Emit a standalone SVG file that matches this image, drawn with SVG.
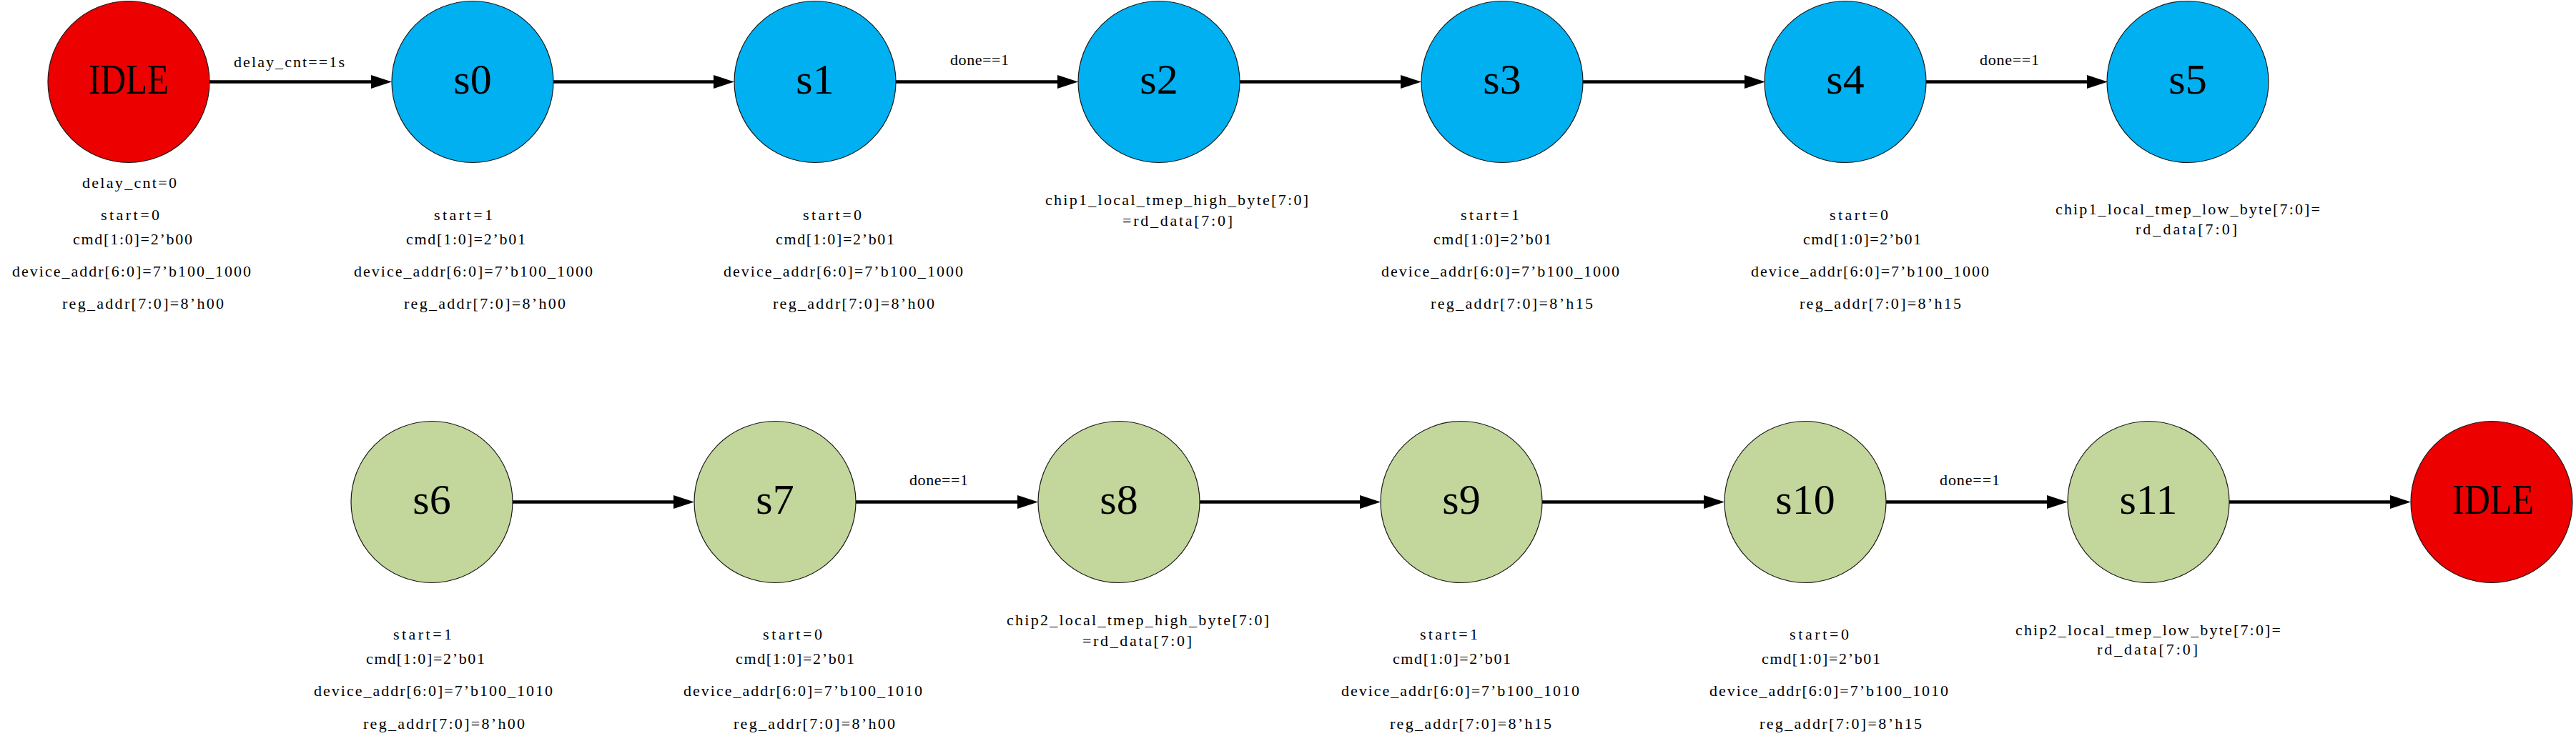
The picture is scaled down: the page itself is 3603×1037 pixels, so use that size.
<svg xmlns="http://www.w3.org/2000/svg" width="3603" height="1037" viewBox="0 0 3603 1037">
<style>
.st{stroke:#1a1a1a;stroke-width:1.2}
.red{fill:#EC0000}
.blue{fill:#00B0F0}
.green{fill:#C3D69B}
.nl{font-family:"Liberation Serif","Noto Sans CJK SC",serif;font-size:60px;fill:#000;text-anchor:middle}
.idle{text-anchor:start}
.t{font-family:"Liberation Serif","Noto Sans CJK SC",serif;font-size:22px;fill:#000}
.edge{stroke:#000;stroke-width:4.5;fill:none;marker-end:url(#ah)}
</style>
<defs>
<marker id="ah" markerUnits="userSpaceOnUse" markerWidth="30" markerHeight="20" refX="0" refY="9.5" orient="auto" overflow="visible">
<path d="M0,0 L29,9.5 L0,19 z" fill="#000"/>
</marker>
</defs>
<rect width="3603" height="1037" fill="#fff"/>
<g id="connectors">
<line class="edge" x1="293" y1="114.5" x2="519" y2="114.5"/>
<line class="edge" x1="773" y1="114.5" x2="998" y2="114.5"/>
<line class="edge" x1="1253" y1="114.5" x2="1479" y2="114.5"/>
<line class="edge" x1="1733" y1="114.5" x2="1959" y2="114.5"/>
<line class="edge" x1="2213" y1="114.5" x2="2440" y2="114.5"/>
<line class="edge" x1="2694" y1="114.5" x2="2919" y2="114.5"/>
<line class="edge" x1="717" y1="702.5" x2="942" y2="702.5"/>
<line class="edge" x1="1197" y1="702.5" x2="1423" y2="702.5"/>
<line class="edge" x1="1677" y1="702.5" x2="1902" y2="702.5"/>
<line class="edge" x1="2157" y1="702.5" x2="2383" y2="702.5"/>
<line class="edge" x1="2637" y1="702.5" x2="2863" y2="702.5"/>
<line class="edge" x1="3117" y1="702.5" x2="3343" y2="702.5"/>
<text class="t" x="327" y="94" textLength="155">delay_cnt==1s</text>
<text class="t" x="1329" y="91" textLength="82">done==1</text>
<text class="t" x="2769" y="91" textLength="83">done==1</text>
<text class="t" x="1272" y="679" textLength="82">done==1</text>
<text class="t" x="2713" y="679" textLength="84">done==1</text>
</g>
<g id="IDLE_top">
<circle class="st red" cx="180" cy="114.5" r="113"/>
<text class="nl idle" x="124" y="131" textLength="112" lengthAdjust="spacingAndGlyphs">IDLE</text>
<text class="t" x="115" y="263" textLength="132">delay_cnt=0</text>
<text class="t" x="141" y="308" textLength="82">start=0</text>
<text class="t" x="102" y="342" textLength="167">cmd[1:0]=2’b00</text>
<text class="t" x="17" y="387" textLength="334">device_addr[6:0]=7’b100_1000</text>
<text class="t" x="87" y="432" textLength="226">reg_addr[7:0]=8’h00</text>
</g>
<g id="s0">
<circle class="st blue" cx="661" cy="114.5" r="113"/>
<text class="nl" x="661" y="131">s0</text>
<text class="t" x="607" y="308" textLength="82">start=1</text>
<text class="t" x="568" y="342" textLength="167">cmd[1:0]=2’b01</text>
<text class="t" x="495" y="387" textLength="334">device_addr[6:0]=7’b100_1000</text>
<text class="t" x="565" y="432" textLength="226">reg_addr[7:0]=8’h00</text>
</g>
<g id="s1">
<circle class="st blue" cx="1140" cy="114.5" r="113"/>
<text class="nl" x="1140" y="131">s1</text>
<text class="t" x="1123" y="308" textLength="82">start=0</text>
<text class="t" x="1085" y="342" textLength="166">cmd[1:0]=2’b01</text>
<text class="t" x="1012" y="387" textLength="335">device_addr[6:0]=7’b100_1000</text>
<text class="t" x="1081" y="432" textLength="226">reg_addr[7:0]=8’h00</text>
</g>
<g id="s2">
<circle class="st blue" cx="1621" cy="114.5" r="113"/>
<text class="nl" x="1621" y="131">s2</text>
<text class="t" x="1462" y="287" textLength="368">chip1_local_tmep_high_byte[7:0]</text>
<text class="t" x="1570" y="316" textLength="154">=rd_data[7:0]</text>
</g>
<g id="s3">
<circle class="st blue" cx="2101" cy="114.5" r="113"/>
<text class="nl" x="2101" y="131">s3</text>
<text class="t" x="2043" y="308" textLength="82">start=1</text>
<text class="t" x="2005" y="342" textLength="165">cmd[1:0]=2’b01</text>
<text class="t" x="1932" y="387" textLength="333">device_addr[6:0]=7’b100_1000</text>
<text class="t" x="2001" y="432" textLength="227">reg_addr[7:0]=8’h15</text>
</g>
<g id="s4">
<circle class="st blue" cx="2581" cy="114.5" r="113"/>
<text class="nl" x="2581" y="131">s4</text>
<text class="t" x="2559" y="308" textLength="82">start=0</text>
<text class="t" x="2522" y="342" textLength="165">cmd[1:0]=2’b01</text>
<text class="t" x="2449" y="387" textLength="333">device_addr[6:0]=7’b100_1000</text>
<text class="t" x="2517" y="432" textLength="226">reg_addr[7:0]=8’h15</text>
</g>
<g id="s5">
<circle class="st blue" cx="3060" cy="114.5" r="113"/>
<text class="nl" x="3060" y="131">s5</text>
<text class="t" x="2875" y="300" textLength="370">chip1_local_tmep_low_byte[7:0]=</text>
<text class="t" x="2987" y="328" textLength="142">rd_data[7:0]</text>
</g>
<g id="s6">
<circle class="st green" cx="604" cy="702.5" r="113"/>
<text class="nl" x="604" y="719">s6</text>
<text class="t" x="550" y="895" textLength="82">start=1</text>
<text class="t" x="512" y="929" textLength="166">cmd[1:0]=2’b01</text>
<text class="t" x="439" y="974" textLength="334">device_addr[6:0]=7’b100_1010</text>
<text class="t" x="508" y="1020" textLength="226">reg_addr[7:0]=8’h00</text>
</g>
<g id="s7">
<circle class="st green" cx="1084" cy="702.5" r="113"/>
<text class="nl" x="1084" y="719">s7</text>
<text class="t" x="1067" y="895" textLength="83">start=0</text>
<text class="t" x="1029" y="929" textLength="166">cmd[1:0]=2’b01</text>
<text class="t" x="956" y="974" textLength="334">device_addr[6:0]=7’b100_1010</text>
<text class="t" x="1026" y="1020" textLength="226">reg_addr[7:0]=8’h00</text>
</g>
<g id="s8">
<circle class="st green" cx="1565" cy="702.5" r="113"/>
<text class="nl" x="1565" y="719">s8</text>
<text class="t" x="1408" y="875" textLength="367">chip2_local_tmep_high_byte[7:0]</text>
<text class="t" x="1514" y="904" textLength="153">=rd_data[7:0]</text>
</g>
<g id="s9">
<circle class="st green" cx="2044" cy="702.5" r="113"/>
<text class="nl" x="2044" y="719">s9</text>
<text class="t" x="1986" y="895" textLength="81">start=1</text>
<text class="t" x="1948" y="929" textLength="165">cmd[1:0]=2’b01</text>
<text class="t" x="1876" y="974" textLength="333">device_addr[6:0]=7’b100_1010</text>
<text class="t" x="1944" y="1020" textLength="226">reg_addr[7:0]=8’h15</text>
</g>
<g id="s10">
<circle class="st green" cx="2525" cy="702.5" r="113"/>
<text class="nl" x="2525" y="719">s10</text>
<text class="t" x="2503" y="895" textLength="83">start=0</text>
<text class="t" x="2464" y="929" textLength="166">cmd[1:0]=2’b01</text>
<text class="t" x="2391" y="974" textLength="334">device_addr[6:0]=7’b100_1010</text>
<text class="t" x="2461" y="1020" textLength="227">reg_addr[7:0]=8’h15</text>
</g>
<g id="s11">
<circle class="st green" cx="3005" cy="702.5" r="113"/>
<text class="nl" x="3005" y="719">s11</text>
<text class="t" x="2819" y="889" textLength="371">chip2_local_tmep_low_byte[7:0]=</text>
<text class="t" x="2933" y="916" textLength="141">rd_data[7:0]</text>
</g>
<g id="IDLE_bottom">
<circle class="st red" cx="3485" cy="702.5" r="113"/>
<text class="nl idle" x="3430" y="719" textLength="114" lengthAdjust="spacingAndGlyphs">IDLE</text>
</g>
</svg>
